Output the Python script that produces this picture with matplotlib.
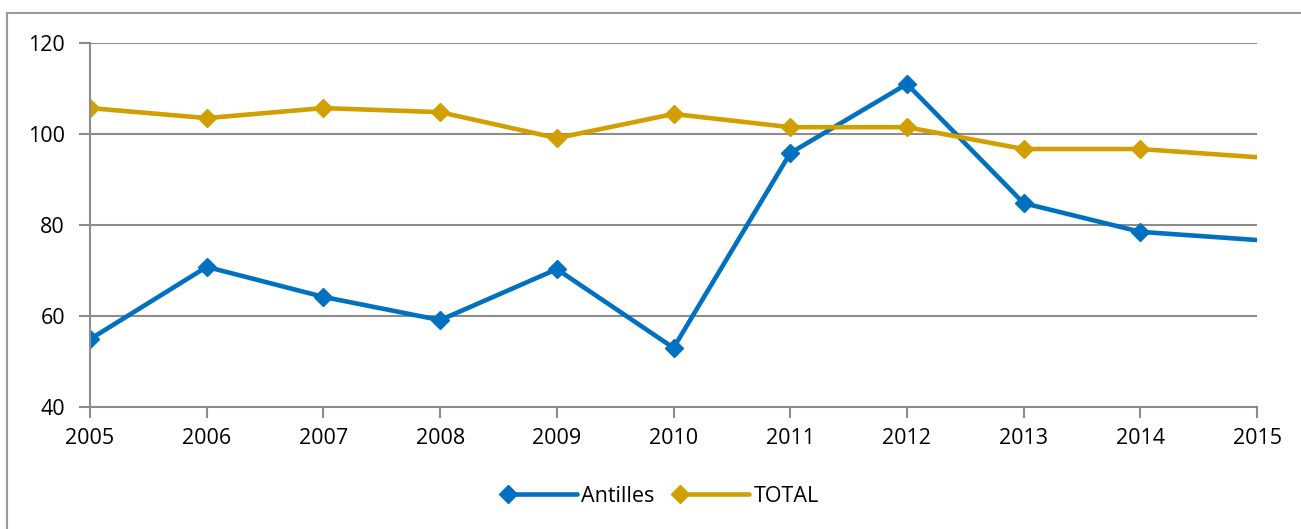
import matplotlib
matplotlib.use("Agg")
import matplotlib.pyplot as plt
import matplotlib.patches as mpatches
from matplotlib.legend_handler import HandlerLine2D

years = list(range(2005, 2016))
antilles = [54.9, 70.8, 64.2, 59.1, 70.3, 53.0, 95.8, 111.0, 84.8, 78.5, 76.7]
total = [105.7, 103.5, 105.7, 104.8, 99.1, 104.4, 101.5, 101.5, 96.7, 96.7, 94.9]

BLUE = "#0070C0"
GOLD = "#D29F00"
GRID = "#8C8C8C"

plt.rcParams["font.family"] = ["Open Sans", "DejaVu Sans"]


class LeftMarker(HandlerLine2D):
    # Excel-style legend: marker sits at the left end of the line sample
    def create_artists(self, legend, orig_handle, xdescent, ydescent, width,
                       height, fontsize, trans):
        arts = super().create_artists(legend, orig_handle, xdescent, ydescent,
                                      width, height, fontsize, trans)
        arts[0].set_markevery([0])
        return arts


fig = plt.figure(figsize=(13.01, 5.29), dpi=100)
ax = fig.add_axes([0.0692, 0.2306, 0.8970, 0.6881])

# outer chart border
fig.patches.append(mpatches.Rectangle((7 / 1301, -0.05), 1.1, 1 - 13 / 529 + 0.05,
                                      transform=fig.transFigure, fill=False,
                                      edgecolor="#9A9A9A", linewidth=1.5))

l1, = ax.plot(years, antilles, color=BLUE, linewidth=3.3, marker="D", markersize=9,
              markevery=slice(0, 10), label="Antilles", solid_capstyle="round")
l2, = ax.plot(years, total, color=GOLD, linewidth=3.3, marker="D", markersize=9,
              markevery=slice(0, 10), label="TOTAL", solid_capstyle="round")

ax.set_xlim(2005, 2015)
ax.set_ylim(40, 120)
ax.set_xticks(years)
ax.set_yticks([40, 60, 80, 100, 120])
ax.grid(axis="y", color=GRID, linewidth=1.5)
ax.set_axisbelow(True)
for s in ["top", "right"]:
    ax.spines[s].set_visible(False)
for s in ["left", "bottom"]:
    ax.spines[s].set_color(GRID)
    ax.spines[s].set_linewidth(1.5)
ax.tick_params(axis="both", colors=GRID, width=1.5, length=8, labelsize=15.5,
               labelcolor="black")
ax.tick_params(axis="x", pad=7)
ax.tick_params(axis="y", pad=10)

fig.legend(handles=[l1, l2], loc="center", bbox_to_anchor=(0.51, 0.062), ncol=2,
           frameon=False, fontsize=15.5, handlelength=3.2, columnspacing=1.2,
           handletextpad=0.2, handler_map={l1: LeftMarker(), l2: LeftMarker()})

fig.savefig("out.png", dpi=100)
